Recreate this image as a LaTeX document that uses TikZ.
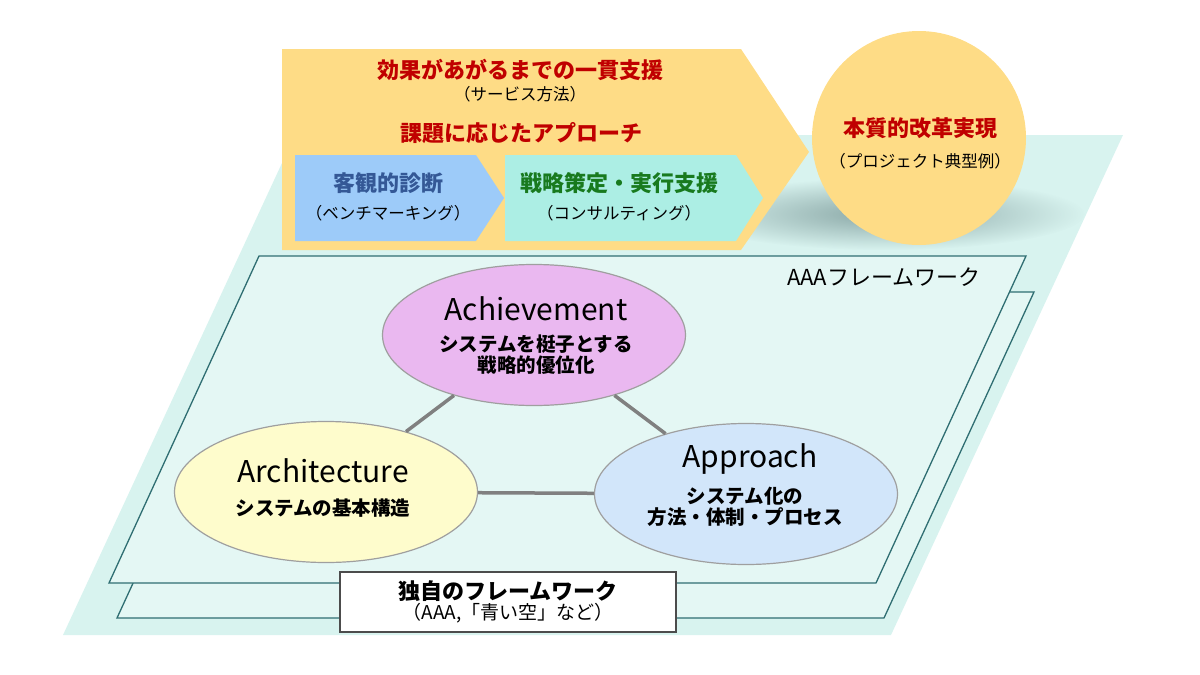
\documentclass[tikz,border=0pt]{standalone}
\usepackage{fontspec}
\setmainfont{Noto Sans CJK JP}
\usetikzlibrary{shapes.geometric,fadings}
\definecolor{bannerc}{RGB}{254,220,134}
\definecolor{diagc}{RGB}{157,203,249}
\definecolor{stratc}{RGB}{172,238,228}
\definecolor{floorc}{RGB}{216,243,239}
\definecolor{panelc}{RGB}{228,247,244}
\definecolor{edgec}{RGB}{47,110,114}
\definecolor{shadowc}{RGB}{110,140,140}
\definecolor{redtxt}{RGB}{192,0,0}
\definecolor{bluetxt}{RGB}{52,88,150}
\definecolor{greentxt}{RGB}{24,122,30}
\definecolor{achc}{RGB}{234,184,240}
\definecolor{arcc}{RGB}{254,252,204}
\definecolor{appc}{RGB}{210,230,250}
\tikzfading[name=softshadow, inner color=transparent!0, outer color=transparent!100]

\begin{document}
\begin{tikzpicture}[x=1pt,y=-1pt,
    head/.style={font=\fontsize{22}{26}\selectfont\bfseries, inner sep=0pt},
    note/.style={font=\fontsize{16.5}{20}\selectfont, inner sep=0pt},
    bubble/.style={ellipse, draw=gray!75, line width=1.2pt, minimum width=303pt,
        minimum height=141pt, inner sep=0pt, align=center},
    title/.style={font=\fontsize{30}{34}\selectfont},
    sub/.style={font=\fontsize{19.5}{23}\selectfont\bfseries},
    link/.style={draw=gray, line width=3.5pt}]
    \useasboundingbox (0,0) rectangle (1200,675);
    % floor and the two framework sheets
    \fill[floorc] (295,135) -- (1123,135) -- (891,635) -- (63,635) -- cycle;
    \draw[edgec, fill=panelc, line width=1.3pt] (267,292) -- (1034,292) -- (884,618) -- (117,618) -- cycle;
    \draw[edgec, fill=panelc, line width=1.3pt] (259,256) -- (1026,256) -- (876,583) -- (109,583) -- cycle;
    \node[font=\fontsize{22}{26}\selectfont, inner sep=0pt] (aaa) at (884,277) {AAAフレームワーク};
    % soft shadow under the banner and circle
    \fill[shadowc, opacity=0.75, path fading=softshadow]
        (885,214) ellipse [x radius=200, y radius=36];
    % banner
    \fill[bannerc] (282,49) -- (741,49) -- (809,152) -- (741,250) -- (282,250) -- cycle;
    \fill[diagc] (295,155) -- (476,155) -- (504,198) -- (476,241) -- (295,241) -- cycle;
    \fill[stratc] (505,155) -- (736,155) -- (763,198) -- (736,241) -- (505,241) -- cycle;
    \node[circle, fill=bannerc, minimum size=214pt] (goal) at (919,138) {};
    \node[head, text=redtxt] (eff) at (520,70) {効果があがるまでの一貫支援};
    \node[note] (svc) at (520,94) {（サービス方法）};
    \node[head, text=redtxt] (kadai) at (521,133) {課題に応じたアプローチ};
    \node[head, text=bluetxt] (diag) at (388,183) {客観的診断};
    \node[note] (bench) at (388,213) {（ベンチマーキング）};
    \node[head, text=greentxt] (strat) at (619,183) {戦略策定・実行支援};
    \node[note] (consult) at (619,213) {（コンサルティング）};
    \node[head, text=redtxt] (real) at (920,128) {本質的改革実現};
    \node[note] (proj) at (920,161) {（プロジェクト典型例）};
    % the three A's
    \node[bubble, fill=achc] (ach) at (534,335) {};
    \node[bubble, fill=arcc] (arc) at (326,492) {};
    \node[bubble, fill=appc] (app) at (746,494) {};
    \node[title] at (536,309) {Achievement};
    \node[sub, align=center] at (536,355) {システムを梃子とする\\[-2pt]戦略的優位化};
    \node[title] at (323,471) {Architecture};
    \node[sub] at (323,508) {システムの基本構造};
    \node[title] at (750,459) {Approach};
    \node[sub, align=center] at (745,507) {システム化の\\[-2pt]方法・体制・プロセス};
    \draw[link] (ach) -- (arc);
    \draw[link] (ach) -- (app);
    \draw[link] (arc) -- (app);
    % caption box
    \node[draw=gray!60!black, fill=white, line width=1.2pt, minimum width=336pt,
        minimum height=60pt, inner sep=0pt, align=center] (own) at (508,602)
        {{\fontsize{22}{26}\selectfont\bfseries 独自のフレームワーク}\\[1pt]
         {\fontsize{19}{22}\selectfont （AAA,「青い空」など）}};
\end{tikzpicture}
\end{document}
